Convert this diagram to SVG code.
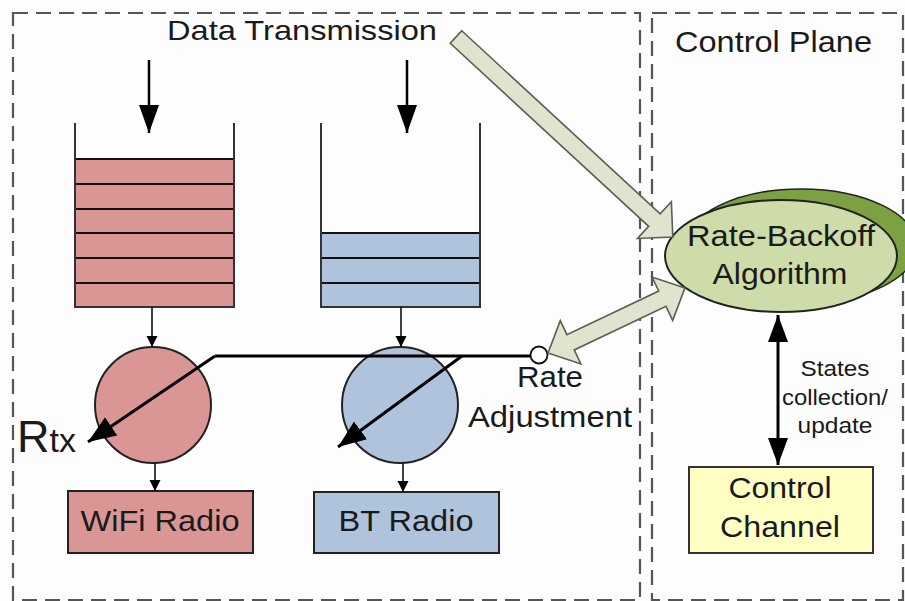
<svg xmlns="http://www.w3.org/2000/svg" width="905" height="601" viewBox="0 0 905 601">
<style>
text{font-family:"Liberation Sans",Arial,sans-serif;fill:#1a1a1a}
.box{fill:none;stroke:#555;stroke-width:2.2;stroke-dasharray:15 8}
.pink{fill:#D99694;stroke:#222;stroke-width:2}
.blue{fill:#AFC3DC;stroke:#222;stroke-width:2}
.wall{stroke:#333;stroke-width:2;fill:none}
.stripe{stroke:#111;stroke-width:2}
.thin{stroke:#111;stroke-width:1.6;fill:none}
.block{fill:#DEE4CD;stroke:#5a5f50;stroke-width:1.6;stroke-linejoin:miter}
</style>
<defs>
<marker id="big" markerUnits="userSpaceOnUse" markerWidth="30" markerHeight="24" refX="28" refY="11" orient="auto">
<path d="M0,0 L28,11 L0,22 Z" fill="#000"/>
</marker>
<marker id="down" markerUnits="userSpaceOnUse" markerWidth="22" markerHeight="30" refX="10" refY="28" orient="0">
<path d="M0,0 L20,0 L10,28 Z" fill="#000"/>
</marker>
<marker id="small" markerUnits="userSpaceOnUse" markerWidth="12" markerHeight="12" refX="11" refY="5.5" orient="auto">
<path d="M0,0 L11,5.5 L0,11 Z" fill="#000"/>
</marker>
<marker id="vs" markerUnits="userSpaceOnUse" markerWidth="28" markerHeight="22" refX="27" refY="10" orient="auto-start-reverse">
<path d="M0,0 L27,10 L0,20 Z" fill="#000"/>
</marker>
</defs>
<rect width="905" height="601" fill="#fdfdfd"/>

<g id="data-plane">
<rect class="box" x="13" y="13" width="627" height="587"/>
</g>
<g id="control-plane">
<rect class="box" x="652" y="13" width="251" height="587"/>
<text x="675" y="52" font-size="30" textLength="197" lengthAdjust="spacingAndGlyphs">Control Plane</text>
</g>
<g id="data-transmission-label">
<text x="167" y="40" font-size="28" textLength="270" lengthAdjust="spacingAndGlyphs">Data Transmission</text>
</g>

<g id="wifi-queue">
<rect class="pink" x="75" y="159" width="159" height="148" stroke="none"/>
<line class="stripe" x1="75" y1="159" x2="234" y2="159"/>
<line class="stripe" x1="75" y1="184" x2="234" y2="184"/>
<line class="stripe" x1="75" y1="209" x2="234" y2="209"/>
<line class="stripe" x1="75" y1="233" x2="234" y2="233"/>
<line class="stripe" x1="75" y1="258" x2="234" y2="258"/>
<line class="stripe" x1="75" y1="283" x2="234" y2="283"/>
<path class="wall" d="M75,123 V307 H234 V123"/>
</g>
<g id="bt-queue">
<rect class="blue" x="321" y="233" width="159" height="74" stroke="none"/>
<line class="stripe" x1="321" y1="233" x2="480" y2="233"/>
<line class="stripe" x1="321" y1="258" x2="480" y2="258"/>
<line class="stripe" x1="321" y1="283" x2="480" y2="283"/>
<path class="wall" d="M321,123 V307 H480 V123"/>
</g>

<g id="wifi-rate">
<circle class="pink" cx="153" cy="405" r="58"/>
</g>
<g id="bt-rate">
<circle class="blue" cx="400" cy="405" r="58"/>
</g>

<g id="wifi-radio">
<rect class="pink" x="68" y="491" width="185" height="62"/>
<text x="160" y="531" font-size="30" text-anchor="middle" textLength="159" lengthAdjust="spacingAndGlyphs">WiFi Radio</text>
</g>
<g id="bt-radio">
<rect class="blue" x="314" y="492" width="185" height="61"/>
<text x="406" y="531" font-size="30" text-anchor="middle" textLength="135" lengthAdjust="spacingAndGlyphs">BT Radio</text>
</g>

<g id="rate-backoff">
<ellipse cx="801" cy="246" rx="116" ry="57" fill="#7CA142" stroke="#222" stroke-width="1.5"/>
<ellipse cx="781" cy="256" rx="116" ry="56" fill="#CDDCA8" stroke="#222" stroke-width="2"/>
<text x="781" y="246" font-size="30" text-anchor="middle" textLength="188" lengthAdjust="spacingAndGlyphs">Rate-Backoff</text>
<text x="780" y="284" font-size="30" text-anchor="middle" textLength="135" lengthAdjust="spacingAndGlyphs">Algorithm</text>
</g>

<g id="control-channel">
<rect x="689" y="467" width="184" height="86" fill="#FFFFC4" stroke="#333" stroke-width="2"/>
<text x="780" y="498" font-size="30" text-anchor="middle" textLength="103" lengthAdjust="spacingAndGlyphs">Control</text>
<text x="780" y="537" font-size="30" text-anchor="middle" textLength="120" lengthAdjust="spacingAndGlyphs">Channel</text>
</g>

<g id="rate-adjustment">
<text x="550" y="387" font-size="29" text-anchor="middle" textLength="66" lengthAdjust="spacingAndGlyphs">Rate</text>
<text x="550" y="427" font-size="29" text-anchor="middle" textLength="164" lengthAdjust="spacingAndGlyphs">Adjustment</text>
</g>

<g id="rtx-label">
<text x="17" y="452" font-size="45">R<tspan font-size="34">tx</tspan></text>
</g>

<g id="connectors">
<line x1="149" y1="60" x2="149" y2="133" stroke="#000" stroke-width="2.5" marker-end="url(#down)"/>
<line x1="407" y1="60" x2="407" y2="133" stroke="#000" stroke-width="2.5" marker-end="url(#down)"/>
<line class="thin" x1="152" y1="307" x2="152" y2="347" marker-end="url(#small)"/>
<line class="thin" x1="401" y1="307" x2="401" y2="347" marker-end="url(#small)"/>
<line class="thin" x1="155" y1="463" x2="155" y2="491" marker-end="url(#small)"/>
<line class="thin" x1="403" y1="463" x2="403" y2="492" marker-end="url(#small)"/>
<line x1="215" y1="356" x2="531" y2="356" stroke="#000" stroke-width="3"/>
<line x1="215" y1="356" x2="88" y2="442" stroke="#000" stroke-width="3" marker-end="url(#big)"/>
<line x1="462" y1="356" x2="338" y2="447" stroke="#000" stroke-width="3" marker-end="url(#big)"/>
<circle cx="539" cy="355" r="8.5" fill="#fff" stroke="#111" stroke-width="1.8"/>
<polygon class="block" transform="translate(456,37) rotate(42.7)" points="0,-8.5 270,-8.5 270,-25 295,0 270,25 270,8.5 0,8.5"/>
<polygon class="block" transform="translate(548,353) rotate(-25.4)" points="0,0 25,-24 25,-8.5 126.6,-8.5 126.6,-24 151.6,0 126.6,24 126.6,8.5 25,8.5 25,24"/>
<line x1="778" y1="315" x2="778" y2="465" stroke="#000" stroke-width="3" marker-start="url(#vs)" marker-end="url(#vs)"/>
<text x="835" y="376" font-size="22" text-anchor="middle" textLength="69" lengthAdjust="spacingAndGlyphs">States</text>
<text x="835" y="405" font-size="22" text-anchor="middle" textLength="106" lengthAdjust="spacingAndGlyphs">collection/</text>
<text x="835" y="433" font-size="22" text-anchor="middle" textLength="75" lengthAdjust="spacingAndGlyphs">update</text>
</g>
</svg>
